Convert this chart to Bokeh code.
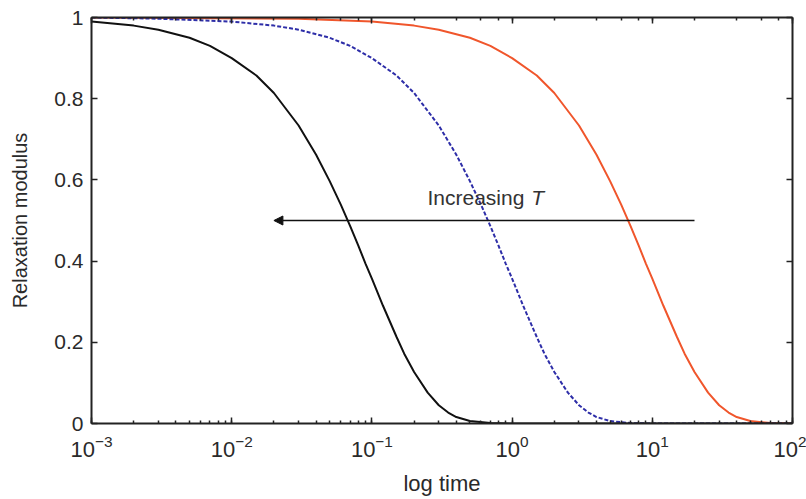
from bokeh.plotting import figure
from bokeh.models import LinearAxis, LogAxis, Arrow, NormalHead, Range1d
from bokeh.embed import file_html
from bokeh.resources import INLINE
from bokeh.core.properties import value

# ---- data ----
t_black = [0.001, 0.002, 0.003, 0.005, 0.007, 0.01, 0.015, 0.02, 0.03, 0.04, 0.05, 0.06,
           0.07, 0.08, 0.09, 0.1, 0.12, 0.15, 0.17, 0.2, 0.25, 0.3, 0.35, 0.4, 0.5, 0.7, 1.0, 100.0]
g_black = [0.99, 0.98, 0.97, 0.95, 0.93, 0.90, 0.857, 0.814, 0.734, 0.662, 0.597, 0.539,
           0.486, 0.438, 0.394, 0.357, 0.29, 0.213, 0.172, 0.127, 0.076, 0.045, 0.027, 0.016, 0.006, 0.001, 0.0, 0.0]

t_blue = [0.001, 0.003, 0.01, 0.02, 0.03, 0.05, 0.07, 0.1, 0.15, 0.2, 0.3, 0.4, 0.5, 0.6,
          0.7, 0.8, 0.9, 1.0, 1.2, 1.5, 1.7, 2.0, 2.5, 3.0, 3.5, 4.0, 5.0, 7.0, 10.0, 100.0]
g_blue = [1.0, 0.997, 0.99, 0.98, 0.97, 0.95, 0.93, 0.90, 0.857, 0.814, 0.734, 0.662, 0.597, 0.539,
          0.486, 0.438, 0.394, 0.357, 0.29, 0.213, 0.172, 0.127, 0.076, 0.045, 0.027, 0.016, 0.006, 0.001, 0.0, 0.0]

t_red = [0.001, 0.03, 0.1, 0.2, 0.3, 0.5, 0.7, 1.0, 1.5, 2.0, 3.0, 4.0, 5.0, 6.0,
         7.0, 8.0, 9.0, 10.0, 12.0, 15.0, 17.0, 20.0, 25.0, 30.0, 35.0, 40.0, 50.0, 70.0, 100.0]
g_red = [1.0, 0.997, 0.99, 0.98, 0.97, 0.95, 0.93, 0.90, 0.857, 0.814, 0.734, 0.662, 0.597, 0.539,
         0.486, 0.438, 0.394, 0.357, 0.29, 0.213, 0.172, 0.127, 0.076, 0.045, 0.027, 0.016, 0.006, 0.001, 0.0]

arrow_x = [20.0, 0.02]    # start, end (log time)
arrow_y = [0.5, 0.5]
label_main = "Increasing "
label_var = "T"

x_lim = (1e-3, 1e2)
y_lim = (0, 1)
y_ticks = [0, 0.2, 0.4, 0.6, 0.8, 1]
y_tick_labels = ["0", "0.2", "0.4", "0.6", "0.8", "1"]

FONT = "Liberation Sans"
FS = "21px"
AXC = "#222222"
TXT = "#2a2a2a"

p = figure(width=806, height=499, x_axis_type="log",
           x_range=Range1d(*x_lim), y_range=Range1d(*y_lim),
           output_backend="svg", toolbar_location=None,
           min_border_left=91, min_border_right=14, min_border_top=17, min_border_bottom=76)

p.grid.visible = False
p.outline_line_color = None
p.background_fill_color = "white"
p.border_fill_color = "white"

# extra mirrored axes (box)
p.add_layout(LogAxis(), "above")
p.add_layout(LinearAxis(), "right")

bottom = p.below[0]
left = p.left[0]
top = p.above[0]
right = p.right[0]

for ax in (bottom, left, top, right):
    ax.axis_line_color = AXC
    ax.axis_line_width = 2
    ax.major_tick_line_color = AXC
    ax.major_tick_line_width = 1.5
    ax.minor_tick_line_color = AXC
    ax.minor_tick_line_width = 1.5
    ax.major_tick_in = 6
    ax.major_tick_out = 0
    ax.minor_tick_in = 3
    ax.minor_tick_out = 0
    ax.major_label_text_font = FONT
    ax.major_label_text_font_size = FS
    ax.major_label_text_color = TXT
    ax.axis_label_text_font = FONT
    ax.axis_label_text_font_size = "20px"
    ax.axis_label_text_font_style = "normal"
    ax.axis_label_text_color = TXT

for ax in (left, right):
    ax.ticker = y_ticks
    ax.minor_tick_line_color = None
    ax.major_label_overrides = {float(v): s for v, s in zip(y_ticks, y_tick_labels)}

bottom.major_label_text_font_size = "22px"
bottom.major_label_standoff = 11
left.major_label_standoff = 8
bottom.axis_label = "log time"
bottom.axis_label_text_font_size = "22px"
bottom.axis_label_standoff = 11
left.axis_label = "Relaxation modulus"
left.axis_label_standoff = 20

# hide labels on mirrored axes
for ax in (top, right):
    ax.major_label_text_font_size = "2px"
    ax.major_label_text_alpha = 0
    ax.major_label_standoff = 0

# curves
p.line(t_red, g_red, line_color="#f0562c", line_width=2)
p.line(t_blue, g_blue, line_color="#2e2ea8", line_width=2, line_dash="4 2")
p.line(t_black, g_black, line_color="#111111", line_width=2)

# arrow
p.add_layout(Arrow(x_start=arrow_x[0], y_start=arrow_y[0], x_end=arrow_x[1], y_end=arrow_y[1],
                   line_color="#111111", line_width=1.5,
                   end=NormalHead(size=9, fill_color="#111111", line_color="#111111")))

p.text(x=[0.249], y=[0.556], text=[label_main], text_font=value(FONT), text_font_size="21px",
       text_color="#333333", text_baseline="alphabetic", text_align="left")
p.text(x=[1.37], y=[0.556], text=[label_var], text_font=value(FONT), text_font_size="21px",
       text_font_style="italic", text_color="#333333", text_baseline="alphabetic", text_align="left")

open("out.html", "w").write(file_html(p, INLINE))
